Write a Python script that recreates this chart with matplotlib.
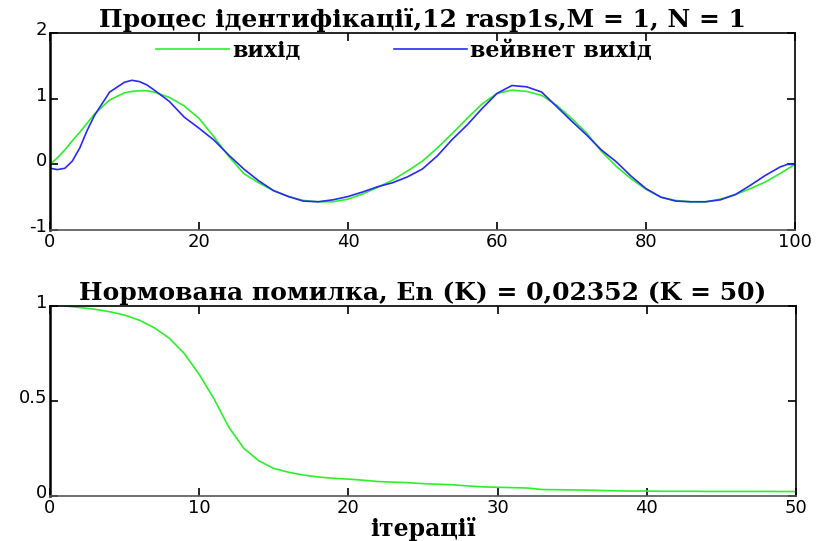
import matplotlib
matplotlib.use("Agg")
import matplotlib.pyplot as plt
import matplotlib.transforms as mtransforms

plt.rcParams["axes.unicode_minus"] = False

# ---- data ----
k_top = [0, 1, 2, 3, 4, 5, 6, 8, 10, 11, 12, 13, 14, 16, 18, 20, 22, 24, 26, 28, 30,
         32, 34, 36, 38, 40, 42, 44, 46, 48, 50, 52, 54, 56, 58, 60, 62, 64, 66, 68,
         70, 72, 74, 76, 78, 80, 82, 84, 86, 88, 90, 92, 94, 96, 98, 99, 100]

out_green = [0.00, 0.10, 0.22, 0.36, 0.49, 0.63, 0.77, 0.98, 1.09, 1.11, 1.12, 1.12, 1.10,
             1.02, 0.89, 0.70, 0.42, 0.12, -0.14, -0.28, -0.40, -0.49, -0.55, -0.57, -0.57,
             -0.53, -0.45, -0.35, -0.24, -0.10, 0.05, 0.25, 0.47, 0.70, 0.92, 1.08, 1.13,
             1.11, 1.05, 0.90, 0.70, 0.48, 0.20, -0.03, -0.22, -0.38, -0.50, -0.55, -0.57,
             -0.57, -0.53, -0.46, -0.37, -0.27, -0.14, -0.07, 0.00]

out_blue = [-0.06, -0.08, -0.06, 0.05, 0.25, 0.52, 0.75, 1.10, 1.25, 1.28, 1.26, 1.21, 1.13,
            0.96, 0.72, 0.55, 0.37, 0.14, -0.07, -0.25, -0.40, -0.49, -0.56, -0.57, -0.54,
            -0.49, -0.42, -0.34, -0.28, -0.19, -0.07, 0.13, 0.38, 0.60, 0.85, 1.08, 1.20,
            1.18, 1.10, 0.88, 0.66, 0.45, 0.22, 0.04, -0.18, -0.37, -0.50, -0.56, -0.57,
            -0.57, -0.54, -0.46, -0.32, -0.17, -0.04, 0.00, 0.00]

k_err = list(range(1, 51))
err = [1.000, 0.992, 0.983, 0.970, 0.952, 0.925, 0.885, 0.830, 0.750, 0.640,
       0.510, 0.360, 0.250, 0.185, 0.145, 0.125, 0.110, 0.100, 0.093, 0.089,
       0.083, 0.076, 0.073, 0.070, 0.065, 0.062, 0.059, 0.053, 0.048, 0.046,
       0.044, 0.042, 0.034, 0.033, 0.032, 0.031, 0.029, 0.027, 0.026, 0.026,
       0.025, 0.025, 0.025, 0.024, 0.024, 0.024, 0.024, 0.024, 0.0236, 0.0235]

title_top = "Процес ідентифікації,12 rasp1s,M = 1, N = 1"
title_bot = "Нормована помилка, En (K) = 0,02352 (K = 50)"
xlabel_bot = "ітерації"
legend_labels = ["вихід", "вейвнет вихід"]

top_xticks = [0, 20, 40, 60, 80, 100]
top_yticks = [-1, 0, 1, 2]
bot_xticks = [0, 10, 20, 30, 40, 50]
bot_yticks = [0, 0.5, 1]
bot_yticklabels = ["0", "0.5", "1"]

# ---- figure ----
W, H = 820, 541
fig = plt.figure(figsize=(W / 100, H / 100), dpi=100)

serif = ["DejaVu Serif"]
sans = ["DejaVu Sans"]

def ax_rect(l, t, r, b):
    return [l / W, 1 - b / H, (r - l) / W, (b - t) / H]

ax1 = fig.add_axes(ax_rect(50, 33, 795, 230))
ax2 = fig.add_axes(ax_rect(50, 306, 796, 496))

GREEN = "#2cf02c"
BLUE = "#2a2af0"

l1, = ax1.plot(k_top, out_green, color=GREEN, lw=1.2)
l2, = ax1.plot(k_top, out_blue, color=BLUE, lw=1.2)
ax1.set_xlim(0, 100)
ax1.set_ylim(-1, 2)
ax1.set_xticks(top_xticks)
ax1.set_yticks(top_yticks)
ax1.set_title(title_top, family=serif, fontsize=18, fontweight="bold", pad=4)

leg = fig.legend([l1, l2], legend_labels, loc="center left",
                 bbox_to_anchor=(156 / W, 1 - 50.5 / H),
                 bbox_transform=fig.transFigure, ncol=2, frameon=False,
                 handlelength=3.3, handletextpad=0.12, columnspacing=4.2,
                 borderpad=0, borderaxespad=0,
                 prop={"family": serif, "size": 16, "weight": "bold"})

ax2.plot(k_err, err, color=GREEN, lw=1.2)
ax2.set_xlim(0, 50)
ax2.set_ylim(0, 1)
ax2.set_xticks(bot_xticks)
ax2.set_yticks(bot_yticks)
ax2.set_yticklabels(bot_yticklabels)
ax2.set_title(title_bot, family=serif, fontsize=18, fontweight="bold", pad=4)
ax2.set_xlabel(xlabel_bot, family=serif, fontsize=17, fontweight="bold", labelpad=0)

shift_up = mtransforms.ScaledTranslation(0, 5 / 100, fig.dpi_scale_trans)
for ax in (ax1, ax2):
    ax.tick_params(direction="in", length=6, width=1.2, top=True, right=True,
                   labelsize=13, pad=2, colors="black")
    for lab in ax.get_xticklabels() + ax.get_yticklabels():
        lab.set_family(sans)
    for lab in ax.get_yticklabels():
        lab.set_transform(lab.get_transform() + shift_up)
    for side, sp in ax.spines.items():
        sp.set_color("black")
        sp.set_linewidth(1.2)
    ax.spines["left"].set_linewidth(1.8)
    ax.spines["bottom"].set_color("#555555")

fig.savefig("out.png", dpi=100)
